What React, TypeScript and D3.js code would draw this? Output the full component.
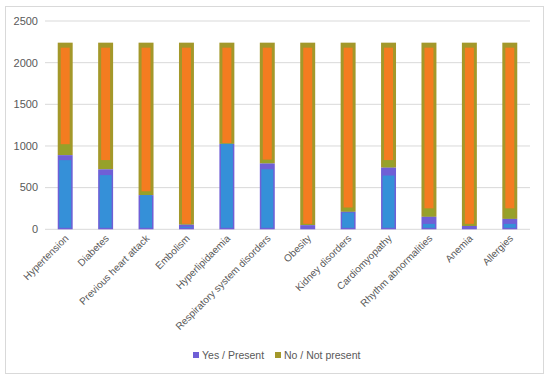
import React from "react";
import * as d3 from "d3";

const categories = [
  "Hypertension", "Diabetes", "Previous heart attack", "Embolism", "Hyperlipidaemia",
  "Respiratory system disorders", "Obesity", "Kidney disorders", "Cardiomyopathy",
  "Rhythm abnormalities", "Anemia", "Allergies",
];
// Yes / Present (drawn in two tones as seen in the picture)
const yesBlue = [830, 650, 410, 30, 1025, 720, 10, 200, 645, 65, 10, 65];
const yesPurple = [60, 70, 0, 25, 0, 70, 40, 10, 95, 85, 30, 60];
// No / Not present (band at the bottom and main part)
const noOlive = [130, 110, 45, 10, 10, 45, 15, 50, 90, 100, 25, 125];
const noOrange = [1220, 1410, 1785, 2175, 1205, 1405, 2175, 1980, 1410, 1990, 2175, 1990];
const yTicks = [0, 500, 1000, 1500, 2000, 2500];
const legendLabels = ["Yes / Present", "No / Not present"];

const W = 550, H = 383;
const C = {
  blue: "#3590d8",
  purple: "#6f5fd6",
  olive: "#a3982a",
  green: "#8ea62c",
  orange: "#f47c20",
  grid: "#d9d9d9",
  text: "#595959",
};

export default function App() {
  const x = d3.scaleBand<string>().domain(categories).range([45, 530]).paddingInner(0.63).paddingOuter(0.315);
  const y = d3.scaleLinear().domain([0, 2500]).range([229.3, 21]);
  const bw = x.bandwidth();
  const font = "'Liberation Sans', Arial, sans-serif";

  return (
    <svg width={W} height={H} style={{ position: "absolute", left: 0, top: 0, background: "#fff" }}>
      <rect x={5.5} y={6.5} width={538} height={367} fill="#fff" stroke={C.grid} />
      {yTicks.map((t) => (
        <g key={t}>
          <line x1={45} x2={530} y1={y(t)} y2={y(t)} stroke={C.grid} strokeWidth={1} />
          <text x={38} y={y(t)} dy="0.35em" textAnchor="end" fontSize={11} fill={C.text} fontFamily={font}>
            {t}
          </text>
        </g>
      ))}
      {categories.map((c, i) => {
        const x0 = x(c)!;
        const s0 = 0;
        const s1 = s0 + yesBlue[i];
        const s2 = s1 + yesPurple[i];
        const s3 = s2 + noOlive[i];
        const s4 = s3 + noOrange[i];
        const yesH = y(s0) - y(s2);
        return (
          <g key={c}>
            {/* No / Not present */}
            <rect x={x0} y={y(s4)} width={bw} height={y(s2) - y(s4)} fill={C.olive} />
            <rect x={x0 + 3} y={y(s4) + 5} width={bw - 6} height={Math.max(0, y(s3) - y(s4) - 5)} fill={C.orange} />
            <rect x={x0 + 2} y={y(s3)} width={bw - 4} height={y(s2) - y(s3)} fill={C.green} opacity={0.6} />
            {/* Yes / Present */}
            <rect x={x0} y={y(s2)} width={bw} height={yesH} fill={C.purple} />
            <rect x={x0 + 1.5} y={y(s1)} width={bw - 3} height={Math.max(0, y(s0) - y(s1) - 1.5)} fill={C.blue} />
            <text
              transform={`translate(${x0 + bw / 2 + 4},${239}) rotate(-45)`}
              textAnchor="end"
              fontSize={10}
              fill={C.text}
              fontFamily={font}
            >
              {c}
            </text>
          </g>
        );
      })}
      <g fontFamily={font} fontSize={10.5} fill={C.text}>
        <rect x={193} y={352} width={6} height={6} fill={C.purple} />
        <text x={202} y={355} dy="0.35em">{legendLabels[0]}</text>
        <rect x={275} y={352} width={6} height={6} fill={C.olive} />
        <text x={284} y={355} dy="0.35em">{legendLabels[1]}</text>
      </g>
    </svg>
  );
}
